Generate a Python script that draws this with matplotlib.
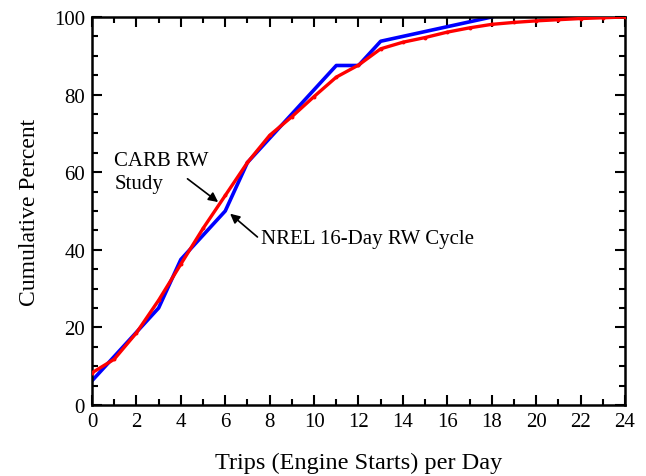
import matplotlib
matplotlib.use('Agg')
import matplotlib.pyplot as plt
from matplotlib.ticker import MultipleLocator

# NREL 16-day real-world cycle (blue)
nrel_trips = [0, 1, 2, 3, 4, 5, 6, 7, 8, 9, 10, 11, 12, 13, 18]
nrel_pct = [6.25, 12.5, 18.75, 25, 37.5, 43.75, 50, 62.5, 68.75, 75, 81.25, 87.5, 87.5, 93.75, 100]

# CARB real-world study (red)
carb_trips = list(range(0, 25))
carb_pct = [8.3, 11.8, 18.6, 27.0, 36.3, 45.5, 54.0, 62.5, 69.5, 74.3, 79.5, 84.5, 87.6,
            91.8, 93.5, 94.7, 96.1, 97.2, 98.1, 98.6, 99.0, 99.3, 99.6, 99.8, 100]

plt.rcParams['font.family'] = ['Liberation Serif', 'DejaVu Serif']

fig = plt.figure(figsize=(6.46, 4.77), dpi=100)
ax = fig.add_axes([0.1424, 0.1488, 0.8251, 0.8135])

ax.plot(nrel_trips, nrel_pct, color='#0000ff', lw=2.6, zorder=2)
ax.plot(carb_trips, carb_pct, color='#ff0000', lw=2.4, marker='o', ms=1.8, zorder=3)

ax.set_xlim(0, 24)
ax.set_ylim(0, 100)
ax.xaxis.set_major_locator(MultipleLocator(2))
ax.xaxis.set_minor_locator(MultipleLocator(1))
ax.yaxis.set_major_locator(MultipleLocator(20))
ax.yaxis.set_minor_locator(MultipleLocator(5))
ax.tick_params(which='both', direction='in', top=True, right=True, width=1.5, labelsize=15)
ax.tick_params(which='major', length=7, pad=5)
ax.tick_params(which='minor', length=4)
for s in ax.spines.values():
    s.set_linewidth(1.8)

ax.set_xlabel('Trips (Engine Starts) per Day', fontsize=17.5, labelpad=15)
ax.set_ylabel('Cumulative Percent', fontsize=17, labelpad=10)

# labels with arrows
arrow = dict(arrowstyle='-|>', color='black', lw=1.2, mutation_scale=14, shrinkA=0, shrinkB=0)
ax.text(1.0, 65.5, 'CARB RW\nStudy', fontsize=15, ha='left', va='top', linespacing=1.3)
ax.annotate('', xy=(5.68, 52.3), xytext=(4.3, 58.3), arrowprops=arrow)
ax.text(7.6, 43, 'NREL 16-Day RW Cycle', fontsize=15, ha='left', va='center')
ax.annotate('', xy=(6.22, 49.3), xytext=(7.45, 43.3), arrowprops=arrow)

fig.savefig('out.png', dpi=100)
